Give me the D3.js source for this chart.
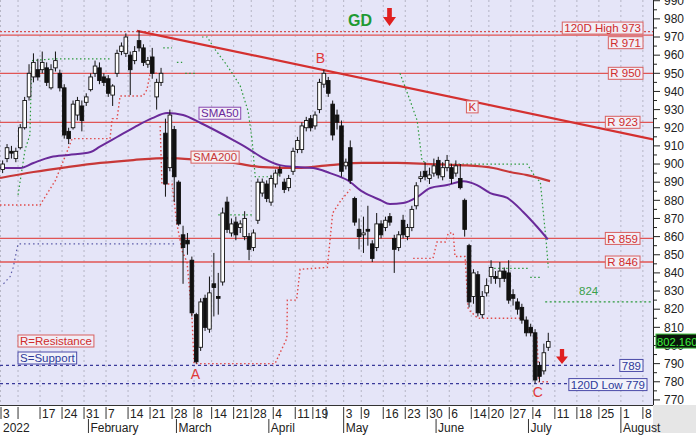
<!DOCTYPE html>
<html><head><meta charset="utf-8">
<script src="https://cdn.jsdelivr.net/npm/d3@7"></script>
<style>
body{margin:0;background:#fff;}
svg{display:block;font-family:Arial,"Liberation Sans",sans-serif;}
</style></head>
<body><svg id="c" width="696" height="439"></svg>
<script>
// ---------------- DATA ----------------
// trading-day index of each week start, and its label
const weekStartIdx = [0,4,9,14,19,24,29,34,39,44,48,53,57,62,67,71,74,78,82,87,92,97,102,107,111,116,121,126,131,136,141,146];
const weekLabels   = ["3","","17","24","31","7","14","21","28","8","14","21","28","4","11","19","","3","9","16","23","30","6","14","20","27","4","11","18","25","1","8"];
const monthStartIdx = [0,20,40,61,78,99,120,141];
const monthLabels   = ["2022","February","March","April","May","June","July","August"];

const openV  = [897,903,907,903,909,920,937,948,952,952,953,942,953,950,942,918,920,927,932,934,941,950,953,948,947,938,950,962,961,960,957,968,964,955,959,937,945,917,898,919,890,861,858,847,817,799,826,809,834,827,835,879,862,868,865,860,860,854,869,884,889,879,889,897,890,887,896,908,908,920,925,921,930,944,946,933,927,921,899,909,881,864,861,864,856,854,867,865,871,859,854,869,860,865,877,892,896,892,895,902,893,898,898,895,892,880,855,827,839,817,829,838,838,837,841,840,828,824,821,814,810,807,789,786,799];
const highV  = [902,911,910,909,922,937,955,961,958,962,956,955,962,952,944,920,935,937,935,939,950,957,956,950,949,944,963,967,972,962,965,973.5,966,959,964,947,953,925,930,921,891,866,862,849,818,826,828,838,851,840,876,882,870,871,869,874,862,864,892,892,891,894,897,899,892,894,909,915,923,926,927,929,947,952,948,935,930,924,903,913,882,870,871,877,858,873,869,871,873,861,863,872,867,877,890,896,901,898,903,904,901,905,900,902,900,881,856,842,841,830,837,847,841,846,843,847,831,826,823,816,812,809,791,801,807];
const lowV   = [895,901,903,901,908,919,935,945,946,950,943,941,951,940,914,911,919,924,918,932,940,948,944,943,937,932,948,960,959,938,955,962,954,953,947,930,943,882,896,879,866,834,850,816,790,797,808,807,816,817,833,862,860,858,862,858,847,852,867,882,879,877,887,893,884,885,894,906,906,918,918,919,928,942,937,913,919,893,897,889,866,853,851,855,846,852,859,863,866,840,852,859,858,863,875,890,891,889,893,892,891,896,889,893,886,860,821,823,816,815,827,834,834,832,835,823,822,817,812,805,805,779,780,784,797];
const closeV = [900,909,906,907,920,935,950,956,948,956,945,952,957,942,916,914,933,935,924,937,948,954,946,945,939,943,961,965,970,952,962,964,956,957,950,945,950,889,927,893,867,854,856,818,791,824,810,829,832,826,873,864,867,861,867,870,853,862,890,890,881,892,895,895,886,892,907,913,921,924,920,927,945,950,939,916,923,896,901,891,868,860,862,863,848,867,861,869,868,853,861,861,865,875,888,893,893,894,899,894,898,902,892,899,887,864,824,840,818,827,833,843,837,841,837,825,826,820,814,807,807,781,783,796,802.16];

// moving averages: [trading-day index, value]
const sma50  = [[-0.6,897.8],[4,897.8],[7,900.6],[11,903.9],[15,905],[20,906.6],[22,909.4],[26,914.9],[30,920.4],[34,925.3],[37.4,928.1],[41,927],[45,922.6],[52.4,913.2],[55.6,908.8],[59.2,903.3],[63,899.4],[67,898.3],[70.6,897.8],[74.4,895],[78.3,891.2],[81.9,884.6],[85.8,880.2],[88,878],[91,878.5],[94.2,881.8],[97.2,886.8],[101,888.4],[104.7,890.5],[107.8,888.4],[110.8,884],[114.7,881.3],[118.3,873.6],[121.5,865.3],[123.9,858.5]];
const sma200 = [[-0.6,892.3],[7,895.6],[14.7,898.3],[22.2,900.6],[29.7,902.2],[37.4,903.3],[44.9,902.2],[52.4,900.6],[59.2,898.3],[66.9,897.8],[74.4,899.4],[81.9,900.6],[89.7,900.6],[97.2,900],[104,899.4],[111.5,897.8],[115.3,895.6],[119.2,893.9],[124.4,890.6]];

const resistance = [971, 950, 923, 859, 846];
const support    = [789];
const high120 = 973, low120 = 779, lastPrice = 802.16, target = 824;
const trendK = [[30.5,973.4],[147.8,913.6]];

// trailing-stop style dotted lines (segments of [index, value])
const redStops = [
  [[-0.6,877.4],[8.5,877.4],[12,891],[14.6,906.6],[15.8,914],[24.4,914],[24.9,925],[26,925],[26.7,937.5],[31.9,937.5],[32.8,941],[33.5,950],[35.3,950]],
  [[35.8,921],[36.2,889],[38.5,889],[39.6,867],[40.8,852],[41.9,846],[43,817],[43.5,790],[61.9,790],[64.6,804],[64.7,825],[66.8,825],[67.6,842],[73.8,843],[75,873],[76.9,880],[79,886]],
  [[93.3,848],[97.8,848],[98.7,857],[100.6,857],[101.3,862],[102.4,862],[102.8,849],[105.1,849],[105.8,820],[108,815],[118.1,815],[119.8,808],[121.4,805],[121.9,780],[124.4,780]]
];
const greenStops = [
  [[3.5,883],[4.4,897],[5.1,908],[6.2,916],[6.6,957],[11.9,958],[24.4,958]],
  [[36.5,964],[38.5,964]],[[39.6,956],[40.8,956]],[[41.5,950],[43.7,950]],
  [[45.3,970],[46.5,970],[48.3,963],[50.5,956],[52.2,950],[54,943],[55.8,929],[56.7,913],[57.4,893],[62.4,893],[63,896]],
  [[49,872],[56.9,872]],
  [[90.3,950],[92.6,935],[94.2,924],[95.3,902],[96.5,900],[97.2,900],[119.2,900],[121,893],[122.2,890],[122.8,875],[123.5,858],[124,843]],
  [[111.7,842.5],[119.4,842.5]],[[119.9,837.5],[122.2,837.5]]
];
const greenTarget = [[123.3,824],[147.8,824]];
const blueStep = [[0.2,834],[1.7,838],[2.4,843],[3.5,856],[39.6,856]];

const sigLabels = [{t:"A",i:43.8,v:781.3},{t:"B",i:72.2,v:955.8},{t:"C",i:121.6,v:771.5}];

// ---------------- CHART ----------------
const W = 696, H = 439, PW = 653, PH = 405;
const svg = d3.select("#c");
const x = d3.scaleLinear().domain([-0.6,147.8]).range([0,PW]);
const y = d3.scaleLinear().domain([767.2,990.4]).range([PH,0]);

svg.append("rect").attr("width",W).attr("height",H).attr("fill","#ffffff");
svg.append("rect").attr("width",PW).attr("height",PH).attr("fill","#e5e5f8");
svg.append("defs").append("clipPath").attr("id","clip").append("rect").attr("width",PW).attr("height",PH);
const g = svg.append("g").attr("clip-path","url(#clip)");

// vertical weekly grid
g.selectAll("line.vg").data(weekStartIdx).join("line")
  .attr("x1",d=>x(d-0.5)).attr("x2",d=>x(d-0.5)).attr("y1",0).attr("y2",PH)
  .attr("stroke","#a8a8b8").attr("stroke-width",0.8).attr("stroke-dasharray","2,3");

const line = d3.line().x(d=>x(d[0])).y(d=>y(d[1]));

// 120D high dotted
g.append("line").attr("x1",0).attr("x2",PW).attr("y1",y(high120)).attr("y2",y(high120))
  .attr("stroke","#d85050").attr("stroke-width",1.2).attr("stroke-dasharray","2,2");
// resistance lines
g.selectAll("line.res").data(resistance).join("line")
  .attr("x1",0).attr("x2",PW).attr("y1",d=>y(d)).attr("y2",d=>y(d))
  .attr("stroke","#e05555").attr("stroke-width",1.3);
// support dashed
g.selectAll("line.sup").data(support).join("line")
  .attr("x1",0).attr("x2",x(139)).attr("y1",d=>y(d)).attr("y2",d=>y(d))
  .attr("stroke","#3a3a9a").attr("stroke-width",1.2).attr("stroke-dasharray","3,3");
g.append("line").attr("x1",0).attr("x2",x(129.2)).attr("y1",y(low120)).attr("y2",y(low120))
  .attr("stroke","#3a3a9a").attr("stroke-width",1.2).attr("stroke-dasharray","3,3");

// dotted trailing lines
redStops.forEach(s=>g.append("path").attr("d",line(s)).attr("fill","none")
  .attr("stroke","#e04a4a").attr("stroke-width",1.4).attr("stroke-dasharray","1.5,2.5"));
greenStops.forEach(s=>g.append("path").attr("d",line(s)).attr("fill","none")
  .attr("stroke","#2c9a3c").attr("stroke-width",1.2).attr("stroke-dasharray","1.5,2.5"));
g.append("path").attr("d",line(greenTarget)).attr("fill","none")
  .attr("stroke","#2c9a3c").attr("stroke-width",1.2).attr("stroke-dasharray","2,2.5");
g.append("path").attr("d",line(blueStep)).attr("fill","none")
  .attr("stroke","#5a5aa8").attr("stroke-width",1.2).attr("stroke-dasharray","1.5,3");

// moving averages
const curve = d3.line().x(d=>x(d[0])).y(d=>y(d[1])).curve(d3.curveMonotoneX);
g.append("path").attr("d",curve(sma200)).attr("fill","none").attr("stroke","#c83838").attr("stroke-width",2.2);
g.append("path").attr("d",curve(sma50)).attr("fill","none").attr("stroke","#6a2a9a").attr("stroke-width",2);

// trend line K
g.append("path").attr("d",line(trendK)).attr("fill","none").attr("stroke","#d43030").attr("stroke-width",2.2);

// candles
const candles = openV.map((o,i)=>({i,o,h:highV[i],l:lowV[i],c:closeV[i]}));
const bw = 3.6;
const cg = g.append("g");
cg.selectAll("line.w").data(candles).join("line")
  .attr("x1",d=>x(d.i)).attr("x2",d=>x(d.i)).attr("y1",d=>y(d.h)).attr("y2",d=>y(d.l))
  .attr("stroke","#111").attr("stroke-width",1);
cg.selectAll("rect.b").data(candles).join("rect")
  .attr("x",d=>x(d.i)-bw/2).attr("width",bw)
  .attr("y",d=>y(Math.max(d.o,d.c))).attr("height",d=>Math.max(1,Math.abs(y(d.o)-y(d.c))))
  .attr("fill",d=>d.c>=d.o?"#ffffff":"#111111").attr("stroke","#111").attr("stroke-width",0.9);

// labels helper
function box(parent,text,opts){
  const grp = parent.append("g");
  const r = grp.append("rect");
  const t = grp.append("text").text(text).attr("font-size",opts.fs||11.5)
    .attr("fill",opts.color).attr("font-weight",opts.bold?"bold":"normal");
  const w = t.node().getComputedTextLength();
  const pad = opts.pad==null?2:opts.pad, bh = opts.bh||12;
  const left = opts.right!=null ? opts.right - w - 2*pad : opts.left;
  const top = opts.cy - bh/2;
  r.attr("x",left).attr("y",top).attr("width",w+2*pad).attr("height",bh)
    .attr("fill",opts.fill).attr("stroke",opts.stroke).attr("stroke-width",1);
  t.attr("x",left+pad).attr("y",top+bh/2+4.1);
  return grp;
}
const lab = svg.append("g");
box(lab,"120D High "+high120,{right:643,cy:y(high120)-3.5,color:"#d02c2c",fill:"#f2eef6",stroke:"#d86060"});
resistance.forEach(r=>{
  const cy = r===971 ? y(r)+7.5 : y(r);
  box(lab,"R "+r,{right: r>=950?643:640, cy, color:"#d02c2c",fill:"#f2eef6",stroke:"#d86060"});
});
box(lab,"789",{right:643,cy:y(789),color:"#2e3a9a",fill:"#f2f2fa",stroke:"#4a4aa8"});
box(lab,"120D Low "+low120,{right:647,cy:y(low120)+1,color:"#2e3a9a",fill:"#f2f2fa",stroke:"#4a4aa8"});
box(lab,"K",{left:x(105.4),cy:y(931.5),color:"#d02c2c",fill:"#f2eef6",stroke:"#d86060",pad:2});
box(lab,"SMA50",{left:199,cy:y(928),color:"#6a2a9a",fill:"#f4f0f8",stroke:"#8a4ab0"});
box(lab,"SMA200",{left:191,cy:y(903.8),color:"#c83838",fill:"#f4eef2",stroke:"#d86060"});
box(lab,"R=Resistance",{left:18,cy:341,color:"#d02c2c",fill:"#f2eef6",stroke:"#d86060",fs:11.5});
box(lab,"S=Support",{left:18,cy:358,color:"#2e3a9a",fill:"#f2f2fa",stroke:"#4a4aa8",fs:11.5});

lab.append("text").attr("x",x(131)).attr("y",y(target)-7).attr("fill","#3aa04a").attr("font-size",11.5).text(target);

sigLabels.forEach(s=>lab.append("text").attr("x",x(s.i)).attr("y",y(s.v)).attr("text-anchor","middle")
  .attr("fill","#e03838").attr("font-size",14).text(s.t));

// GD label + arrows
lab.append("text").attr("x",348).attr("y",26).attr("fill","#1e9a34").attr("font-size",16).attr("font-weight","bold").text("GD");
function arrow(cx,top,w,h){
  const p = d3.path();
  p.moveTo(cx-w*0.18,top); p.lineTo(cx+w*0.18,top); p.lineTo(cx+w*0.18,top+h*0.5);
  p.lineTo(cx+w/2,top+h*0.5); p.lineTo(cx,top+h); p.lineTo(cx-w/2,top+h*0.5); p.lineTo(cx-w*0.18,top+h*0.5); p.closePath();
  lab.append("path").attr("d",p.toString()).attr("fill","#e02020");
}
arrow(389.5,8,13,18);
arrow(562,349,12,15);

// right axis
const ax = svg.append("g");
ax.append("rect").attr("x",PW).attr("y",0).attr("width",W-PW).attr("height",PH).attr("fill","#ffffff");
ax.append("line").attr("x1",PW+0.5).attr("x2",PW+0.5).attr("y1",0).attr("y2",PH).attr("stroke","#222");
const yt = d3.range(770,991,10), ym = d3.range(775,991,10);
ax.selectAll("line.mj").data(yt).join("line").attr("x1",PW).attr("x2",PW+7).attr("y1",d=>y(d)).attr("y2",d=>y(d)).attr("stroke","#222");
ax.selectAll("line.mn").data(ym).join("line").attr("x1",PW).attr("x2",PW+4).attr("y1",d=>y(d)).attr("y2",d=>y(d)).attr("stroke","#222");
ax.selectAll("text.yl").data(yt).join("text").attr("x",664).attr("y",d=>y(d)+4.3)
  .attr("font-size",12).attr("fill","#222").text(d=>d);
// last price box
ax.append("rect").attr("x",656).attr("y",y(lastPrice)-7.5).attr("width",41).attr("height",14)
  .attr("fill","#0a160a").attr("stroke","#38c038");
ax.append("text").attr("x",657).attr("y",y(lastPrice)+4.3).attr("font-size",11.2).attr("fill","#3cf03c").text(lastPrice.toFixed(3));

// bottom date axis
const bx = svg.append("g");
bx.append("rect").attr("x",PW).attr("y",PH).attr("width",W-PW).attr("height",28).attr("fill","#e6e6e6");
bx.append("line").attr("x1",0).attr("x2",PW).attr("y1",PH+0.5).attr("y2",PH+0.5).attr("stroke","#333");
bx.selectAll("line.wk").data(weekStartIdx).join("line")
  .attr("x1",d=>Math.max(1,x(d-0.5))).attr("x2",d=>Math.max(1,x(d-0.5))).attr("y1",PH+2).attr("y2",PH+14).attr("stroke","#333");
bx.selectAll("text.wk").data(weekStartIdx).join("text")
  .attr("x",d=>Math.max(1,x(d-0.5))+2).attr("y",PH+13).attr("font-size",12).attr("fill","#222")
  .text((d,k)=>weekLabels[k]);
bx.selectAll("line.mo").data(monthStartIdx.slice(1)).join("line")
  .attr("x1",d=>x(d-0.5)).attr("x2",d=>x(d-0.5)).attr("y1",PH+14).attr("y2",PH+28).attr("stroke","#333");
bx.selectAll("text.mo").data(monthStartIdx).join("text")
  .attr("x",(d,k)=>k===0?3:x(d-0.5)+2).attr("y",PH+27).attr("font-size",12).attr("fill","#222")
  .text((d,k)=>monthLabels[k]);
</script>
</body></html>
